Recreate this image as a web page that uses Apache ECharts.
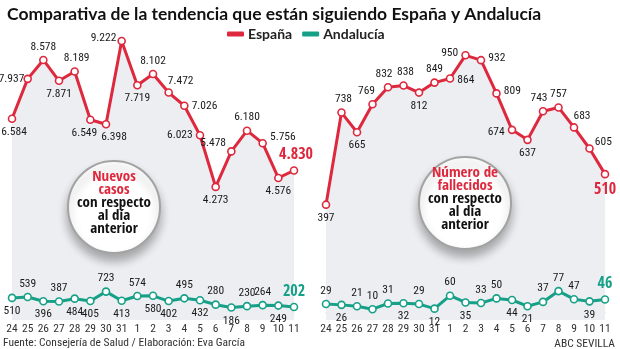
<!DOCTYPE html>
<html><head><meta charset="utf-8">
<script src="https://cdn.jsdelivr.net/npm/echarts@6/dist/echarts.min.js"></script>
<style>html,body{margin:0;padding:0;background:#fff}#c{width:620px;height:349px}</style>
</head><body><div id="c"></div>
<script>
const days = ['24','25','26','27','28','29','30','31','1','2','3','4','5','6','7','8','9','10','11'];
const casosEspana = [6584,7937,8578,7871,8189,6549,6398,9222,7719,8102,7472,7026,6023,4273,5478,6180,5756,4576,4830];
const casosAndalucia = [510,539,396,387,484,405,723,413,574,580,402,495,432,280,186,230,264,249,202];
const fallecidosEspana = [397,738,665,769,832,838,812,849,864,950,932,809,674,637,743,757,683,605,510];
const fallecidosAndalucia = [29,26,21,10,31,32,29,12,60,35,33,50,44,21,37,77,47,39,46];

// label placement (style only)
const posCE = ['bottom','left','top','bottom','top','bottom','bottom','left','bottom','top','top','right','left','bottom','left','top','right','bottom','top'];
const offCE = [[2,0],[4,0],[0,0],[0,0],[2,0],[-6,0],[8,0],[2,-3],[0,0],[0,0],[12,2],[0,0],[0,0],[0,0],[2,-8],[0,0],[0,-6],[0,0],[2,0]];
const posCA = ['bottom','top','bottom','top','bottom','bottom','top','bottom','top','bottom','bottom','top','bottom','top','bottom','top','top','bottom','top'];
const posFE = ['bottom','top','bottom','top','top','top','bottom','top','right','left','right','right','left','bottom','top','top','top','right','bottom'];
const offFE = [[0,0],[2,0],[0,0],[-6,0],[-4,0],[2,0],[0,0],[0,0],[0,2],[0,-2],[0,-2],[0,-2],[0,2],[0,0],[-4,0],[0,0],[8,2],[-2,-6],[0,0]];
const posFA = ['top','bottom','top','top','top','bottom','top','bottom','top','bottom','top','top','bottom','bottom','top','top','top','bottom','top'];

const RED = '#de283d', GREEN = '#17a088', GRAYFILL = '#eceef1';
const COND = '"Roboto Condensed", "Liberation Sans", sans-serif';
const CONDB = '"Open Sans Condensed", "Roboto Condensed", sans-serif';

function fmt(v){ return String(v).replace(/\B(?=(\d{3})+(?!\d))/g, '.'); }

function mkData(vals, pos, off, color){
  return vals.map((v,i)=>{
    const last = i === vals.length-1;
    const lab = {position: pos[i], distance: 3};
    if (off) lab.offset = off[i];
    if (last){ lab.fontSize = 16; lab.fontWeight = 'bold'; lab.color = color; lab.fontFamily = CONDB; }
    return {value: v, label: lab};
  });
}

function lineSeries(name, vals, pos, off, color, gi, area){
  const s = {
    name, type:'line', xAxisIndex: gi, yAxisIndex: gi,
    data: mkData(vals, pos, off, color),
    symbol:'circle', symbolSize: 7, showAllSymbol: true,
    lineStyle:{color, width: 3},
    itemStyle:{color:'#fff', borderColor: color, borderWidth: 1.6},
    label:{show:true, fontFamily: COND, fontSize: 11.5, color:'#1a1a1a', formatter: p => fmt(p.value)},
    emphasis:{disabled:true}, z: area ? 3 : 4
  };
  if (area) s.areaStyle = {color: GRAYFILL, opacity: 1, origin: 'start'};
  return s;
}

const chart = echarts.init(document.getElementById('c'), null, {renderer:'canvas'});
const xAx = gi => ({
  type:'category', gridIndex: gi, data: days, boundaryGap: false,
  axisTick:{show:false}, axisLine:{lineStyle:{color:'#c4c4c4', width:1}},
  axisLabel:{fontFamily: COND, fontSize: 11.5, color:'#333', margin: 3, interval: 0}
});
const yAx = (gi, mn, mx) => ({type:'value', gridIndex: gi, min: mn, max: mx, show:false, splitLine:{show:false}});

function circleGraphic(cx, cy, lines1, lines2){
  return [
    {type:'circle', shape:{cx, cy, r:46}, style:{fill:'#fff', stroke:'#a3a3a3', lineWidth:2, shadowBlur:10, shadowOffsetY:7, shadowColor:'rgba(0,0,0,0.30)'}, z:10},
    {type:'text', x: cx, y: cy - 4, z: 11, style:{
      text: lines1.map(l=>'{r|'+l+'}').join('\n') + '\n' + lines2.map(l=>'{b|'+l+'}').join('\n'),
      align:'center', verticalAlign:'middle',
      rich:{
        r:{fontFamily: CONDB, fontSize: 15, fontWeight:'bold', fill: RED, lineHeight: 13, align:'center'},
        b:{fontFamily: CONDB, fontSize: 15, fontWeight:'bold', fill: '#111', lineHeight: 13, align:'center'}
      }
    }}
  ];
}

chart.setOption({
  animation:false,
  backgroundColor:'#fff',
  title:{text:'Comparativa de la tendencia que están siguiendo España y Andalucía', left: 2, top: 0,
    textStyle:{fontFamily:'Lato, sans-serif', fontSize: 17.5, fontWeight: 'bold', color:'#111'}},
  legend:{left: 222, top: 22, itemWidth: 17, itemHeight: 5, itemGap: 10, icon:'roundRect',
    textStyle:{fontFamily:'Lato, sans-serif', fontSize: 14, fontWeight:'bold', color:'#222', padding:[0,0,0,-1]},
    data:[{name:'España', itemStyle:{color: RED, borderWidth:0}}, {name:'Andalucía', itemStyle:{color: GREEN, borderWidth:0}}]},
  grid:[
    {left: 12, right: 326, top: 31, bottom: 29},
    {left: 326, right: 15, top: 31, bottom: 29}
  ],
  xAxis:[xAx(0), xAx(1)],
  yAxis:[yAx(0, -240, 9560), yAx(1, -30, 1040)],
  series:[
    lineSeries('España', casosEspana, posCE, offCE, RED, 0, true),
    lineSeries('Andalucía', casosAndalucia, posCA, null, GREEN, 0, false),
    lineSeries('España', fallecidosEspana, posFE, offFE, RED, 1, true),
    lineSeries('Andalucía', fallecidosAndalucia, posFA, null, GREEN, 1, false)
  ],
  graphic: [
    ...circleGraphic(114, 207, ['Nuevos','casos'], ['con respecto','al día','anterior']),
    ...circleGraphic(465, 203, ['Número de','fallecidos'], ['con respecto','al día','anterior']),
    {type:'text', left: 3, top: 337, style:{text:'Fuente: Consejería de Salud / Elaboración: Eva García', fontFamily: COND, fontSize: 11.5, fill:'#333'}},
    {type:'text', right: 5, top: 338, style:{text:'ABC SEVILLA', fontFamily: COND, fontSize: 11.5, fill:'#333'}}
  ]
});
</script></body></html>
